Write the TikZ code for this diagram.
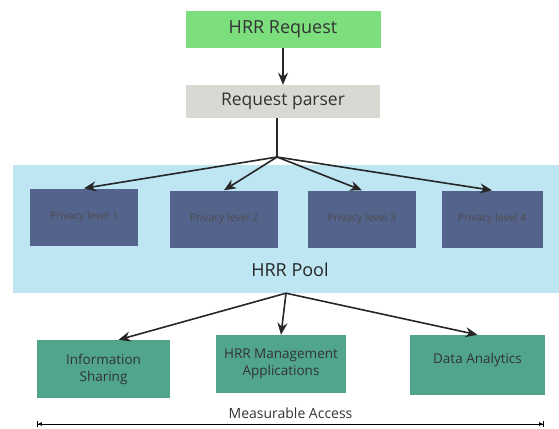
\documentclass[tikz,border=0pt]{standalone}
\usepackage{fontspec}
\setmainfont{Open Sans}
\usetikzlibrary{arrows.meta}

\definecolor{reqgreen}{RGB}{125,222,125}
\definecolor{parsergray}{RGB}{217,217,211}
\definecolor{poolblue}{RGB}{190,229,242}
\definecolor{levelblue}{RGB}{84,99,140}
\definecolor{appteal}{RGB}{80,165,140}

\begin{document}
\begin{tikzpicture}[
        x=1pt, y=-1pt,
        node distance=72pt, % centre to centre
        box/.style={
            rectangle,
            inner sep=2pt,
            align=center,
            text=black!80
        },
        level/.style={
            box,
            fill=levelblue,
            minimum width=108pt,
            minimum height=57pt,
            text=black!70,
            font=\fontsize{10.5}{12}\selectfont
        },
        app/.style={
            box,
            fill=appteal,
            minimum height=58pt,
            font=\fontsize{13.5}{17}\selectfont
        },
        arrow/.style={
            -{Stealth[length=12pt,width=10pt]},
            line width=1.6pt,
            color=black!85
        }
    ]
        \useasboundingbox (0,0) rectangle (559,428);

        \node (request) [box, fill=reqgreen, minimum width=195pt, minimum height=37pt, font=\fontsize{18}{20}\selectfont] at (283,29.5) {HRR Request};
        \node (parser) [box, fill=parsergray, minimum width=194pt, minimum height=33pt, font=\fontsize{17.5}{20}\selectfont, below of=request] {Request parser};

        % pool with the four levels
        \node (pool) [box, fill=poolblue, minimum width=546pt, minimum height=128pt] at (286,229) {};
        \node (pooltext) [box, font=\fontsize{18}{20}\selectfont, text=black!85] at (290,270) {HRR Pool};
        \node (level1) [level] at (84,217) {Privacy level 1};
        \node (level2) [level, right of=level1, node distance=140pt, yshift=-2pt] {Privacy level 2};
        \node (level3) [level, right of=level2, node distance=138pt] {Privacy level 3};
        \node (level4) [level, right of=level3, node distance=130pt, minimum width=101pt] {Privacy level 4};

        % applications
        \node (info) [app, minimum width=133pt] at (103.5,369) {Information\\Sharing};
        \node (manage) [app, minimum width=130pt] at (281,364) {HRR Management\\Applications};
        \node (analytics) [app, minimum width=135pt, minimum height=60pt, text depth=14pt] at (477.5,365) {Data Analytics};

        \coordinate (split) at (277,157);
        \coordinate (accleft) at (37,424);
        \coordinate (accright) at (544,424);

        \draw[arrow] (request) -- (parser);
        \draw[line width=1.6pt, black!85] (parser.south -| split) -- (split);
        \draw[arrow] (split) -- (level1.north);
        \draw[arrow] (split) -- (level2.north);
        \draw[arrow] (split) -- (level3.north);
        \draw[arrow] (split) -- (level4.north);

        \draw[arrow] (pool.south) -- ([xshift=15pt]info.north);
        \draw[arrow] (pool.south) -- (manage.north);
        \draw[arrow] (pool.south) -- (analytics.north);

        \draw[{Bar[width=6pt]Latex[length=4pt,width=4pt]}-{Latex[length=4pt,width=4pt]Bar[width=6pt]}, line width=0.8pt] (accleft) -- (accright)
            node[midway, above=2pt, font=\fontsize{14}{16}\selectfont, text=black!80] (access) {Measurable Access};
    \end{tikzpicture}
\end{document}
